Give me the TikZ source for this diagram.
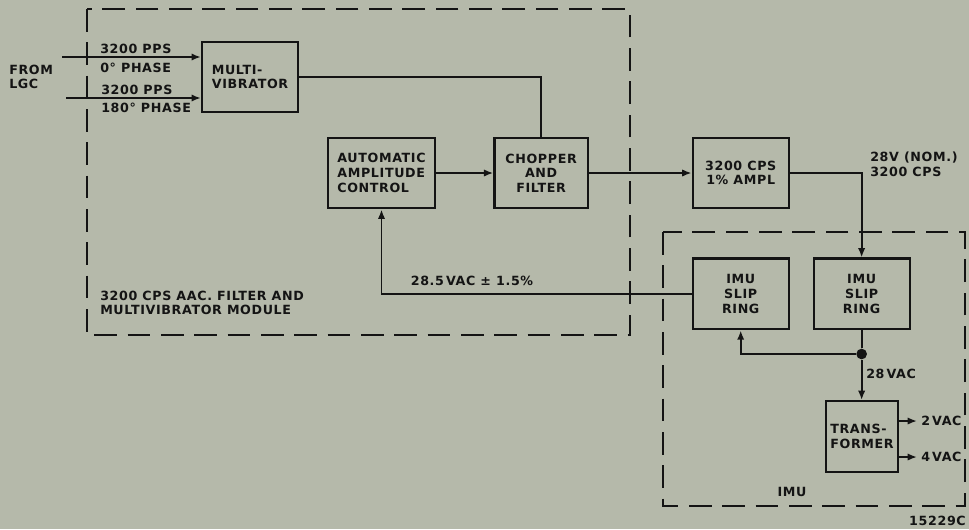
\documentclass[tikz,border=0pt]{standalone}
\usepackage{fontspec}
\setmainfont{DejaVu Sans}[LetterSpace=5]
\usepackage{tikz}
\usetikzlibrary{arrows.meta,positioning}
\definecolor{PaperGray}{HTML}{B5B9AA}
\definecolor{InkBlack}{HTML}{141414}

\begin{document}
\begin{tikzpicture}[
  x=0.75pt,y=-0.75pt,
  node distance=36pt and 17pt,
  every node/.style={font=\fontsize{9.5}{11}\selectfont\bfseries,text=InkBlack},
  box/.style={draw=InkBlack,line width=1.7pt,align=center,inner sep=2pt,
    minimum width=72pt,minimum height=53pt},
  lbl/.style={align=left,inner sep=0pt},
  wire/.style={InkBlack,line width=1.4pt},
  arr/.style={wire,-{Latex[length=7pt,width=5.5pt]}},
  frame/.style={draw=InkBlack,line width=1.6pt,dash pattern=on 17pt off 8pt},
  jdot/.style={circle,fill=InkBlack,inner sep=0pt,minimum size=8pt}
]
\fill[PaperGray] (0,0) rectangle (969,529);
\useasboundingbox (0,0) rectangle (969,529);

% module frames
\draw[frame] (87,9) rectangle (630,335);
\draw[frame] (663,232) rectangle (965,506);

% blocks
\node[box,align=left] (mvib) at (250,77) {MULTI-\\VIBRATOR};
\node[box,align=left,minimum width=80pt] (aac) at (381.5,173) {AUTOMATIC\\AMPLITUDE\\CONTROL};
\node[box,minimum width=70pt,right=43pt of aac] (chop) {CHOPPER\\AND\\FILTER};
\node[box,right=77pt of chop] (ampl) {3200 CPS\\1\% AMPL};
\node[box,below=of ampl] (ringA) {IMU\\SLIP\\RING};
\node[box,right=of ringA] (ringB) {IMU\\SLIP\\RING};
\node[box,align=left,minimum width=54pt] (xfmr) at (862,436.5) {TRANS-\\FORMER};
\node[jdot] (split) at (ringB.south |- 0,354) {};

% inputs from LGC
\node[lbl,anchor=west] (lgc) at (9,77) {FROM\\LGC};
\coordinate (inA) at (62,57);
\coordinate (inB) at (66,98);
\draw[arr] (inA) -- (inA -| mvib.west);
\draw[arr] (inB) -- (inB -| mvib.west);
\node[lbl,anchor=west] (ppsA) at (100,49) {3200 PPS};
\node[lbl,anchor=west] (phA) at (100,68) {0° PHASE};
\node[lbl,anchor=west] (ppsB) at (101,90) {3200 PPS};
\node[lbl,anchor=west] (phB) at (101,108) {180° PHASE};

% signal path
\draw[wire] (mvib.east) -| (chop.north);
\draw[arr] (aac) -- (chop);
\draw[arr] (chop) -- (ampl);
\draw[arr] (ampl.east) -| (ringB.north);
\node[lbl,anchor=west] (nom) at (870,164) {28V (NOM.)\\3200 CPS};
\draw[arr] (ringA.west) -| (aac.south);
\node[lbl] (fbk) at (472,281) {28.5\,VAC ± 1.5\%};
\draw[wire] (ringB.south) -- (split);
\draw[arr] (split) -| (ringA.south);
\draw[arr] (split) -- (split |- xfmr.north);
\node[lbl,anchor=west] (vac28) at (866,374) {28\,VAC};

% transformer outputs
\coordinate (outA) at (917,421);
\coordinate (outB) at (917,457);
\draw[arr] (outA -| xfmr.east) -- (outA);
\draw[arr] (outB -| xfmr.east) -- (outB);
\node[lbl,anchor=west] (vac2) at (921,421) {2\,VAC};
\node[lbl,anchor=west] (vac4) at (921,457) {4\,VAC};

% captions
\node[lbl,anchor=west] (modname) at (100,303) {3200 CPS AAC. FILTER AND\\MULTIVIBRATOR MODULE};
\node[lbl] (imu) at (792,492) {IMU};
\node[lbl,anchor=east] (figno) at (966,521) {15229C};
\end{tikzpicture}
\end{document}
